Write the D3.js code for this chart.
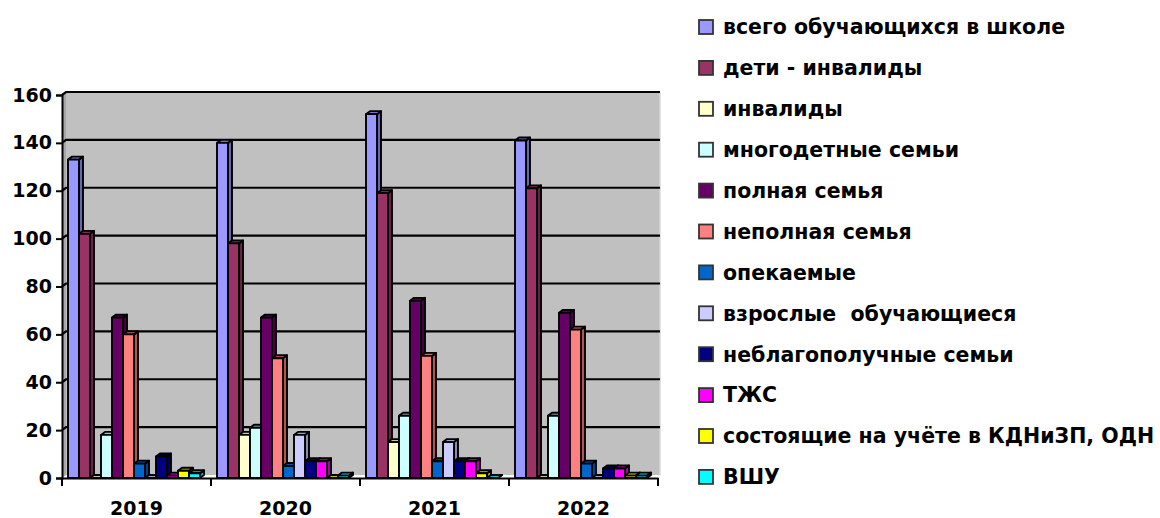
<!doctype html>
<html>
<head>
<meta charset="utf-8">
<style>
  body { margin: 0; background: #fff; }
  #chart text { font-family: "DejaVu Sans", sans-serif; font-weight: bold; fill: #000; }
</style>
</head>
<body>
<svg id="chart" width="1160" height="518"></svg>
<script src="https://d3js.org/d3.v7.min.js"></script>
<script>
var years = ["2019", "2020", "2021", "2022"];
var seriesNames = [
  "всего обучающихся в школе",
  "дети - инвалиды",
  "инвалиды",
  "многодетные семьи",
  "полная семья",
  "неполная семья",
  "опекаемые",
  "взрослые  обучающиеся",
  "неблагополучные семьи",
  "ТЖС",
  "состоящие на учёте в КДНиЗП, ОДН",
  "ВШУ"
];
var seriesColors = ["#9999FF", "#993366", "#FFFFCC", "#CCFFFF", "#660066", "#FF8080",
                    "#0066CC", "#CCCCFF", "#000080", "#FF00FF", "#FFFF00", "#00FFFF"];
// values per series, one per year
var vsego       = [133, 140, 152, 141];
var detiInv     = [102,  98, 119, 121];
var invalidy    = [  0,  18,  15,   0];
var mnogodet    = [ 18,  21,  26,  26];
var polnaya     = [ 67,  67,  74,  69];
var nepolnaya   = [ 60,  50,  51,  62];
var opekaemye   = [  6,   5,   7,   6];
var vzroslye    = [  0,  18,  15,   0];
var neblag      = [  9,   7,   7,   4];
var tzhs        = [  1,   7,   7,   4];
var kdn         = [  3,   0,   2,   1];
var vshu        = [  2,   1,   0,   1];
var seriesValues = [vsego, detiInv, invalidy, mnogodet, polnaya, nepolnaya,
                    opekaemye, vzroslye, neblag, tzhs, kdn, vshu];
var yTicks = [0, 20, 40, 60, 80, 100, 120, 140, 160];

var svg = d3.select("#chart");
var left = 62, right = 658, bottom = 478, plotTop = 95;
var dx = 4, dy = 3; // depth of 3d effect

var x0 = d3.scaleBand().domain(years).range([left, right]).paddingInner(0);
var x1 = d3.scaleBand().domain(d3.range(seriesNames.length)).range([6, 138]);
var y = d3.scaleLinear().domain([0, 160]).range([bottom, plotTop]);

// walls
svg.append("polygon")
  .attr("points", [[left, plotTop], [left + dx, plotTop - dy], [left + dx, bottom - dy], [left, bottom]].join(" "))
  .attr("fill", "#a8a8a8");
svg.append("rect")
  .attr("x", left + dx).attr("y", plotTop - dy)
  .attr("width", right + 2 - left - dx).attr("height", bottom - plotTop)
  .attr("fill", "#c0c0c0");
svg.append("line")
  .attr("x1", right + 2).attr("x2", right + 2)
  .attr("y1", plotTop - dy).attr("y2", bottom - dy)
  .attr("stroke", "#d8d8d8").attr("stroke-width", 1.5);

// gridlines
svg.append("g").selectAll("polyline")
  .data(yTicks.slice(1))
  .enter().append("polyline")
  .attr("points", function(d) {
    return [[left, y(d)], [left + dx, y(d) - dy], [right + 2, y(d) - dy]].join(" ");
  })
  .attr("fill", "none").attr("stroke", "#000").attr("stroke-width", 2.2);

// bars
var bars = [];
years.forEach(function(yr, j) {
  seriesNames.forEach(function(s, i) {
    bars.push({year: yr, i: i, value: seriesValues[i][j], color: seriesColors[i]});
  });
});

var bw = x1.bandwidth();
var bar = svg.append("g").selectAll("g")
  .data(bars)
  .enter().append("g")
  .attr("stroke", "#000").attr("stroke-width", 1.9).attr("stroke-linejoin", "round");

bar.append("polygon") // side face
  .attr("points", function(d) {
    var x = x0(d.year) + x1(d.i) + bw, yt = y(d.value);
    return [[x, yt], [x + dx, yt - dy], [x + dx, bottom - dy], [x, bottom]].join(" ");
  })
  .attr("fill", function(d) { return d3.color(d.color).darker(1.1); });
bar.append("polygon") // top face
  .attr("points", function(d) {
    var x = x0(d.year) + x1(d.i), yt = y(d.value);
    return [[x, yt], [x + dx, yt - dy], [x + bw + dx, yt - dy], [x + bw, yt]].join(" ");
  })
  .attr("fill", function(d) { return d3.color(d.color).darker(0.7); });
bar.append("rect") // front face
  .attr("x", function(d) { return x0(d.year) + x1(d.i); })
  .attr("y", function(d) { return y(d.value); })
  .attr("width", bw)
  .attr("height", function(d) { return bottom - y(d.value); })
  .attr("fill", function(d) { return d.color; });

// axes
var yAxis = svg.append("g")
  .attr("transform", "translate(" + left + ",0)")
  .call(d3.axisLeft(y).tickValues(yTicks).tickSize(6).tickPadding(4));
yAxis.selectAll("text").style("font-size", "19px");

var xAxis = svg.append("g")
  .attr("transform", "translate(0," + bottom + ")")
  .call(d3.axisBottom(x0).tickSize(0).tickPadding(24));
xAxis.selectAll("text").style("font-size", "19px");

svg.append("g").selectAll("line")
  .data(years.map(function(d) { return x0(d); }).concat([right]))
  .enter().append("line")
  .attr("x1", function(d) { return d; }).attr("x2", function(d) { return d; })
  .attr("y1", bottom).attr("y2", bottom + 8)
  .attr("stroke", "#000").attr("stroke-width", 2);

svg.selectAll(".domain").attr("stroke", "#000").attr("stroke-width", 2);
svg.selectAll(".tick line").attr("stroke", "#000").attr("stroke-width", 2);

// legend
var legend = svg.append("g").selectAll("g")
  .data(seriesNames)
  .enter().append("g")
  .attr("transform", function(d, i) { return "translate(699," + (27 + i * 40.9) + ")"; });
legend.append("rect")
  .attr("x", 0).attr("y", -7).attr("width", 14).attr("height", 14)
  .attr("fill", function(d, i) { return seriesColors[i]; })
  .attr("stroke", "#333").attr("stroke-width", 1.8);
legend.append("text")
  .attr("x", 24).attr("dy", "0.36em")
  .style("font-size", "20.5px")
  .style("white-space", "pre")
  .text(function(d) { return d; });
</script>
</body>
</html>
